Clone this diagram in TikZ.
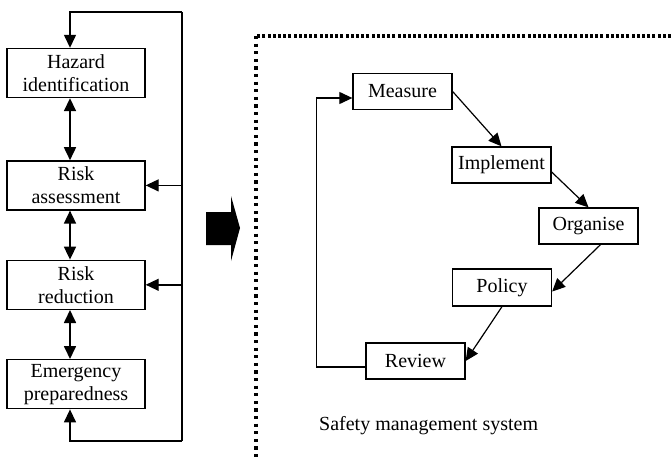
\documentclass[tikz,border=0pt]{standalone}
\usepackage{fontspec}
\setmainfont{Liberation Serif}
\usepackage{tikz}
\usetikzlibrary{positioning,arrows.meta,calc}

\begin{document}
\begin{tikzpicture}[
  x=1pt, y=-1pt,
  box/.style={draw, line width=1.4pt, minimum width=138pt,
              minimum height=49pt, align=center, inner sep=2pt,
              font=\fontsize{20}{23}\selectfont},
  sbox/.style={draw, line width=1.3pt, minimum width=99pt,
               minimum height=36pt, inner sep=2pt,
               font=\fontsize{20}{23}\selectfont},
  arr/.style={-{Triangle[length=13pt,width=12pt]}, line width=1.4pt},
  dbl/.style={{Triangle[length=13pt,width=12pt]}-{Triangle[length=13pt,width=12pt]},
              line width=1.7pt},
  thin/.style={-{Triangle[length=13pt,width=12pt]}, line width=1.2pt},
  dotrule/.style={line width=3.2pt}
]
  \useasboundingbox (0,0) rectangle (671,457);

  % left column
  \node[box] (hz) at (76,73) {Hazard\\identification};
  \node[box, below=62pt of hz] (ra) {Risk\\assessment};
  \node[box, below=49pt of ra] (rr) {Risk\\reduction};
  \node[box, below=49pt of rr] (em) {Emergency\\preparedness};

  \draw[dbl] ([xshift=-6pt]hz.south) -- ([xshift=-6pt]ra.north);
  \draw[dbl] ([xshift=-6pt]ra.south) -- ([xshift=-6pt]rr.north);
  \draw[dbl] ([xshift=-6pt]rr.south) -- ([xshift=-6pt]em.north);

  \coordinate (tr) at (182,12);
  \coordinate (br) at (182,441);
  \draw[line width=1.4pt] (tr) -- (br);
  \draw[arr] (tr) -| ([xshift=-6pt]hz.north);
  \draw[arr] (br) -| ([xshift=-6pt]em.south);
  \draw[arr] (ra.east -| tr) -- (ra.east);
  \draw[arr] (rr.east -| tr) -- (rr.east);

  % big arrow
  \fill (206,212) -- (231,212) -- (231,196) -- (240,228) -- (231,261)
    -- (231,245) -- (206,245) -- cycle;

  % dotted frame
  \draw[dotrule, dash pattern=on 3pt off 2.2pt] (671,36) -- (256,36);
  \draw[dotrule, dash pattern=on 3.2pt off 4.4pt] (256,36) -- (256,457);

  % safety management system
  \node[sbox] (meas) at (402.5,91.5) {Measure};
  \node[sbox] (impl) at (501.5,165) {Implement};
  \node[sbox] (org) at (588.5,226) {Organise};
  \node[sbox, minimum height=37pt] (pol) at (502,287.5) {Policy};
  \node[sbox] (rev) at (415.5,361) {Review};

  \draw[thin] (meas.east) -- (impl.north);
  \draw[thin] ($(impl.east)+(0,7)$) -- (org.north);
  \draw[thin] ($(org.south)+(12,0)$) -- ($(pol.east)+(0,4)$);
  \draw[thin] (pol.south) -- (rev.east);
  \draw[thin] ($(rev.west)+(0,6)$) -| ($(meas.west)+(-36,6.5)$)
    -- ($(meas.west)+(0,6.5)$);

  \node[anchor=base west, inner sep=0pt, font=\fontsize{20}{23}\selectfont]
    (sms) at (319,430) {Safety management system};
\end{tikzpicture}
\end{document}
